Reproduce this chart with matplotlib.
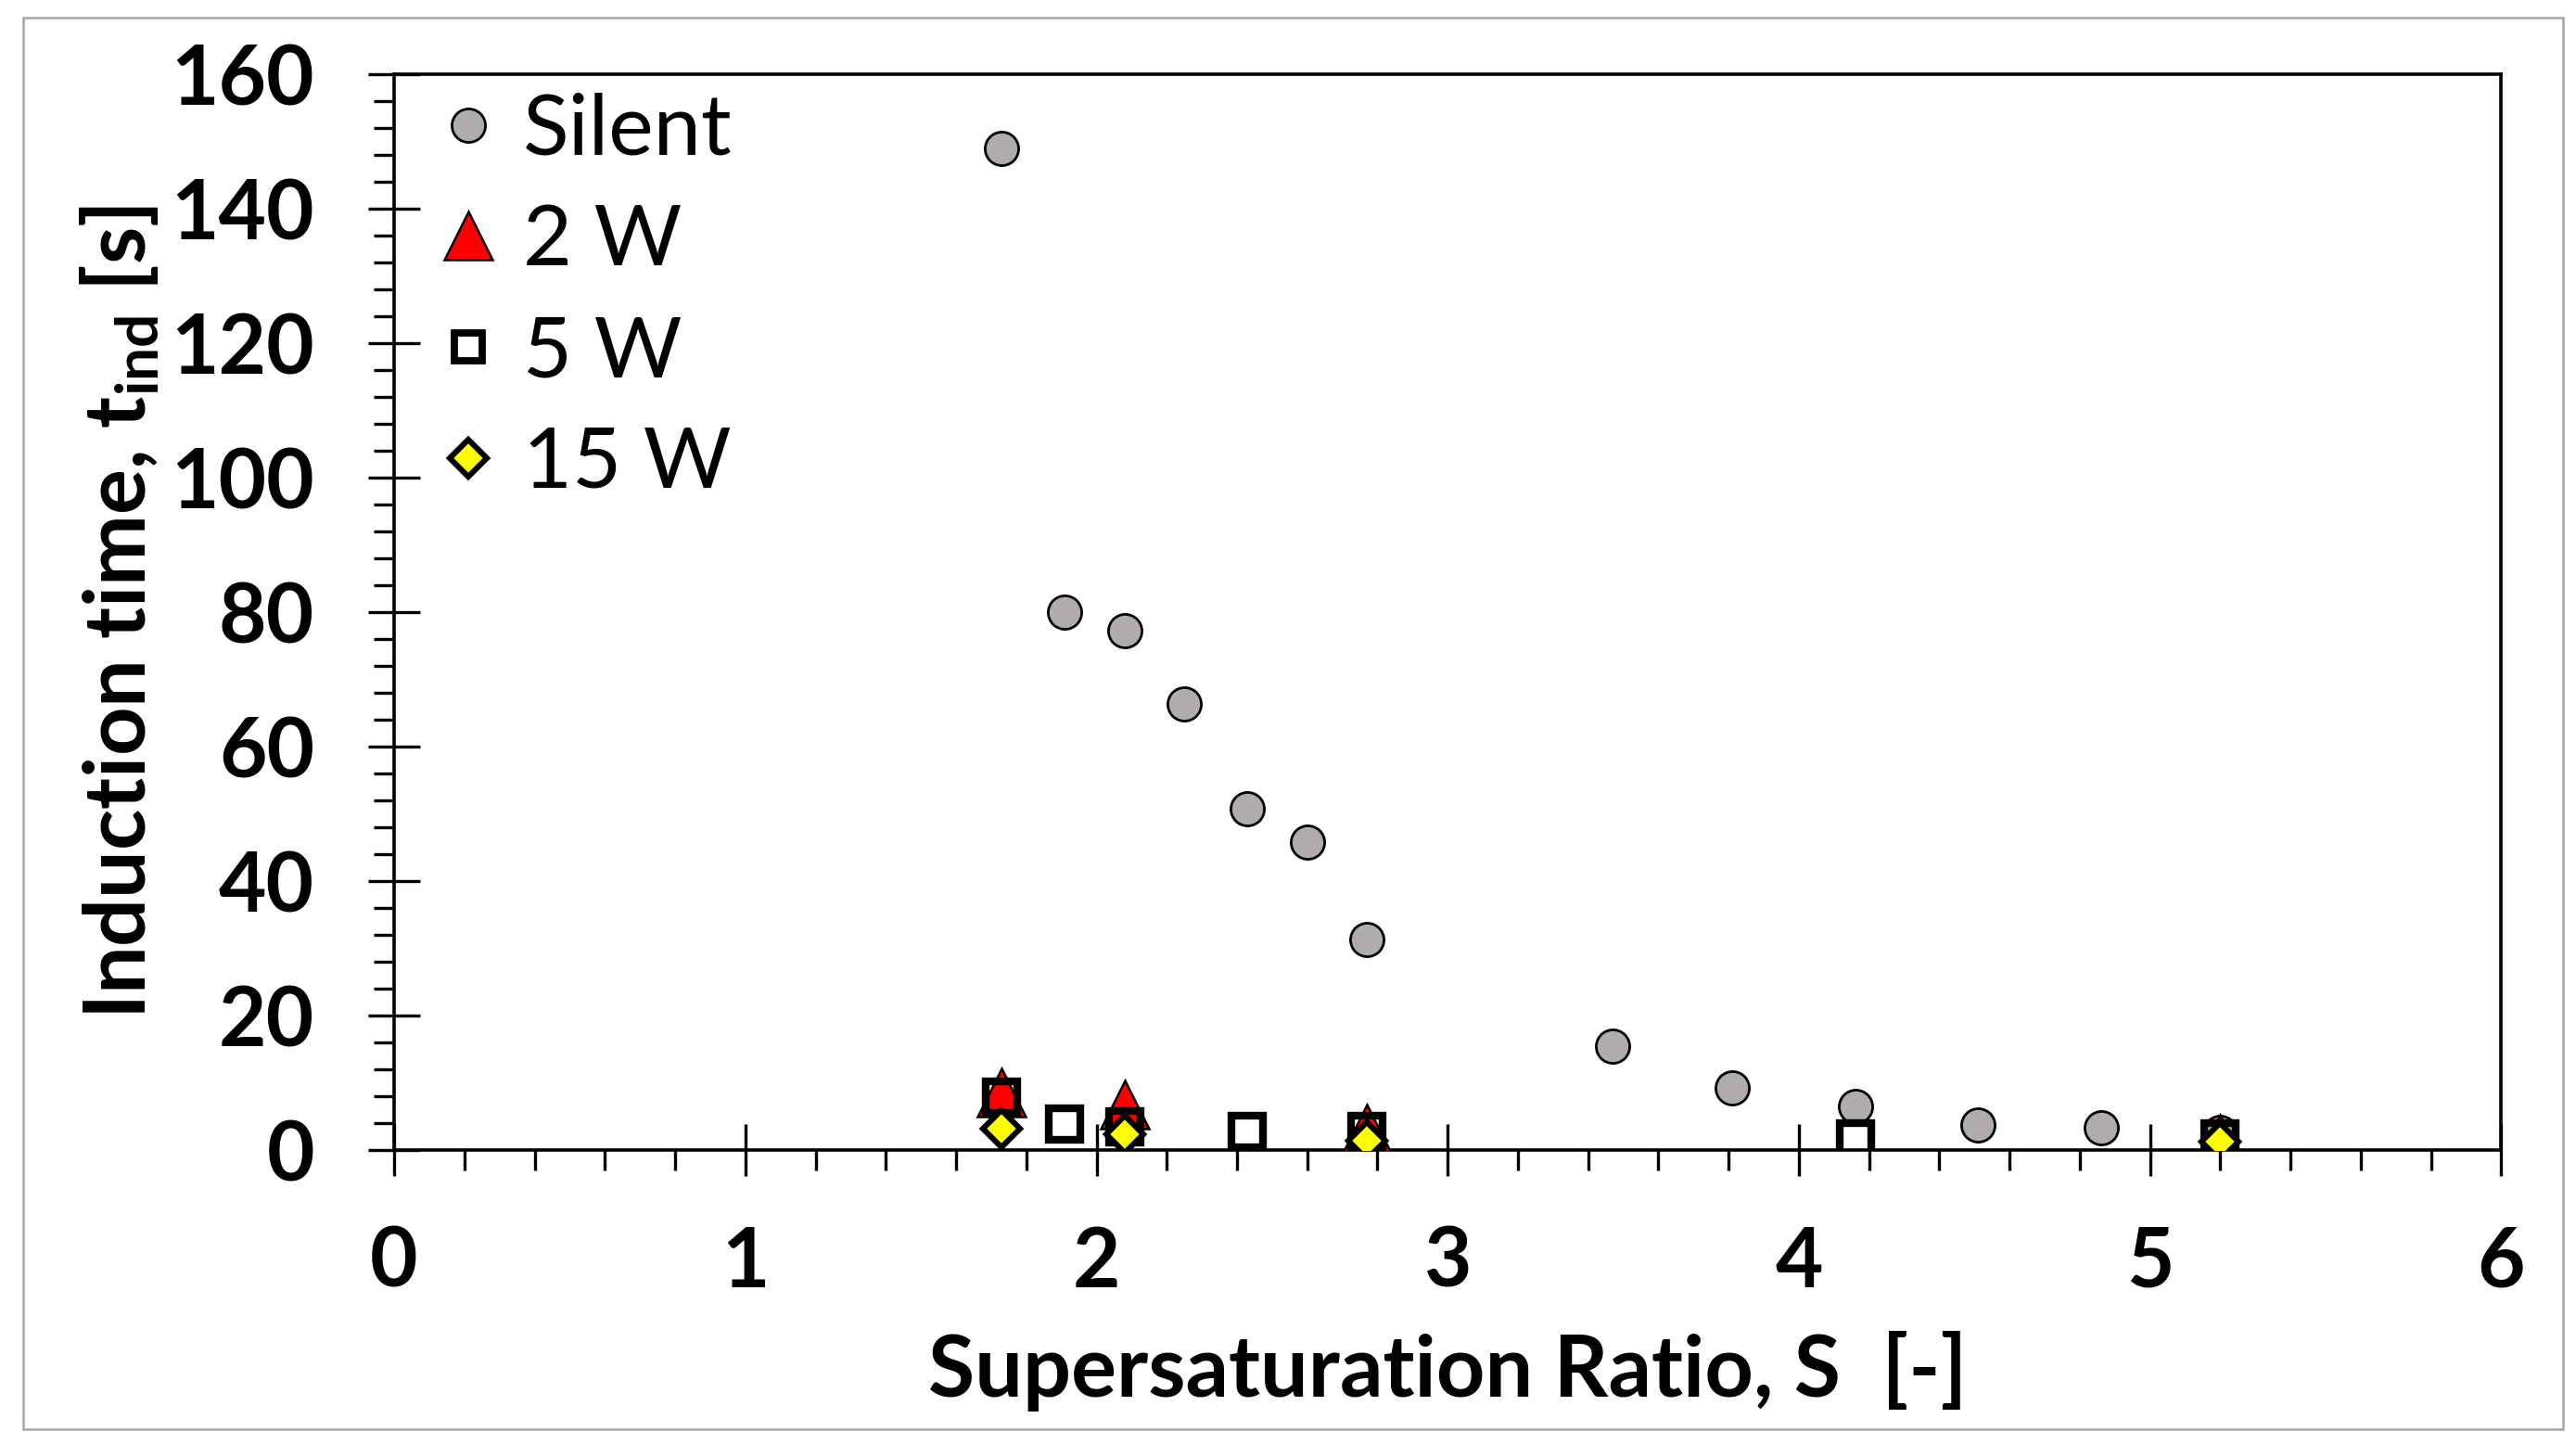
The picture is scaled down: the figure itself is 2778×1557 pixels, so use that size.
import matplotlib
matplotlib.use("Agg")
import matplotlib.pyplot as plt
from matplotlib.lines import Line2D
from matplotlib.patches import Rectangle
from matplotlib.ticker import MultipleLocator

plt.rcParams['font.family'] = ['Lato', 'DejaVu Sans']
plt.rcParams['mathtext.default'] = 'regular'

# data
S_silent = [1.73, 1.91, 2.08, 2.25, 2.43, 2.60, 2.77, 3.47, 3.81, 4.16, 4.51, 4.86, 5.20]
t_silent = [149.0, 80.0, 77.2, 66.3, 50.8, 45.8, 31.3, 15.5, 9.3, 6.5, 3.7, 3.3, 2.6]

S_2w = [1.73, 2.08, 2.77, 5.20]
t_2w = [8.6, 6.8, 3.2, 1.7]

S_5w = [1.73, 1.91, 2.08, 2.43, 2.77, 4.16, 5.20]
t_5w = [7.8, 3.9, 3.5, 2.75, 2.7, 1.7, 1.7]

S_15w = [1.73, 2.08, 2.77, 5.20]
t_15w = [3.2, 2.4, 1.4, 1.2]

labels = ["Silent", "2 W", "5 W", "15 W"]

fig = plt.figure(figsize=(13.89, 7.785), dpi=200)
ax1 = fig.add_axes([0.153, 0.2036, 0.818, 0.745])

# outer gray frame
fig.patches.append(Rectangle((0.009, 0.01), 0.986, 0.978, transform=fig.transFigure,
                             fill=False, edgecolor="#a6a6a6", lw=0.9))

ax1.plot(S_silent, t_silent, "o", ms=13, mfc="#b0acac", mec="black", mew=1.0, zorder=3)
ax1.plot(S_2w, t_2w, "^", ms=19, mfc="red", mec="black", mew=0.9, zorder=4)
ax1.plot(S_5w, t_5w, "s", ms=12.5, mfc="none", mec="black", mew=3.0, zorder=5)
ax1.plot(S_15w, t_15w, "D", ms=10, mfc="yellow", mec="black", mew=2.2, zorder=6)

ax1.set_xlim([0, 6])
ax1.set_ylim([0, 160])
ax1.xaxis.set_major_locator(MultipleLocator(1))
ax1.xaxis.set_minor_locator(MultipleLocator(0.2))
ax1.yaxis.set_major_locator(MultipleLocator(20))
ax1.yaxis.set_minor_locator(MultipleLocator(4))

font_size = 32
ax1.tick_params(which="major", direction="inout", length=20, width=1.2,
                labelsize=font_size)
ax1.tick_params(axis="y", which="major", pad=21)
ax1.tick_params(axis="x", which="major", pad=19)
ax1.tick_params(which="minor", direction="out", length=8, width=1.2)
for lab in ax1.get_xticklabels() + ax1.get_yticklabels():
    lab.set_fontweight("bold")
for sp in ax1.spines.values():
    sp.set_linewidth(1.3)

ax1.set_xlabel("Supersaturation Ratio, S  [-]", size=33, fontweight="bold")
ax1.set_ylabel(r"Induction time, t$_{ind}$ [s]", size=33, fontweight="bold")
ax1.xaxis.set_label_coords(0.5, -0.168)
ax1.yaxis.set_label_coords(-0.111, 0.5)

handles = [
    Line2D([], [], ls="", marker="o", ms=13, mfc="#b0acac", mec="black", mew=1.0),
    Line2D([], [], ls="", marker="^", ms=19, mfc="red", mec="black", mew=0.9),
    Line2D([], [], ls="", marker="s", ms=11, mfc="white", mec="black", mew=2.8),
    Line2D([], [], ls="", marker="D", ms=10, mfc="yellow", mec="black", mew=2.2),
]
leg = ax1.legend(handles, labels, loc="upper left", bbox_to_anchor=(0.019, 0.983),
                 fontsize=33, frameon=False, handlelength=0.8, handletextpad=0.24,
                 labelspacing=0.4, borderaxespad=0.0, borderpad=0.0)

fig.savefig("out.png", dpi=200)
